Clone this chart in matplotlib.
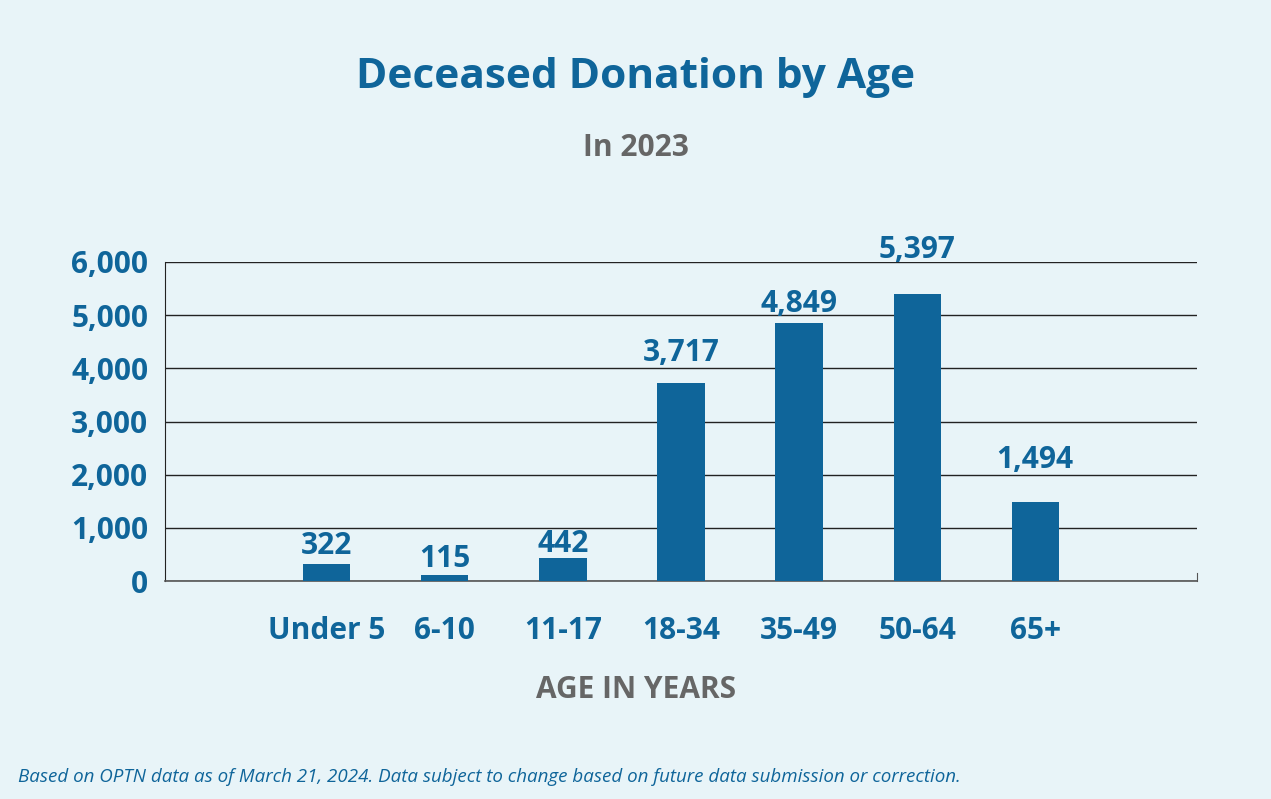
import matplotlib.pyplot as plt

ages = ["Under 5", "6-10", "11-17", "18-34", "35-49", "50-64", "65+"]
donors = [322, 115, 442, 3717, 4849, 5397, 1494]
y_ticks = [0, 1000, 2000, 3000, 4000, 5000, 6000]

# gap (px) between bar top and label baseline, as in the original layout
label_gap = [10, 8, 6, 22, 11, 36, 34]

bg = "#e8f4f8"
blue = "#0f659a"
gray = "#666666"

plt.rcParams['font.family'] = ['Open Sans', 'DejaVu Sans']

fig = plt.figure(figsize=(12.71, 7.99), dpi=100, facecolor=bg)
ax = fig.add_axes([0.1298, 0.2728, 0.812, 0.3993])
ax.set_facecolor(bg)

x = list(range(len(ages)))
ax.bar(x, donors, width=0.4, color=blue, zorder=3)
for xi, v, g in zip(x, donors, label_gap):
    ax.annotate(f"{v:,}", (xi, v), xytext=(0, g * 0.72), textcoords="offset points",
                ha="center", va="baseline", fontsize=21.5, fontweight="bold", color=blue)

ax.set_xlim(-1.37, 7.37)
ax.set_ylim(0, 6000)
ax.set_yticks(y_ticks)
ax.set_yticklabels([f"{t:,}" for t in y_ticks], fontsize=21.5, fontweight="bold", color=blue)
ax.set_xticks(x)
ax.set_xticklabels(ages, fontsize=21.5, fontweight="bold", color=blue)
ax.tick_params(axis="both", length=0)
ax.tick_params(axis="y", pad=12)
ax.tick_params(axis="x", pad=25)

ax.grid(axis="y", color="#222222", linewidth=1.0, zorder=0)
ax.spines["top"].set_visible(False)
ax.spines["right"].set_bounds(0, 150)
ax.spines["right"].set_color("#555555")
ax.spines["left"].set_color("#222222")
ax.spines["bottom"].set_color("#555555")
ax.spines["bottom"].set_linewidth(1.2)

ax.set_xlabel("AGE IN YEARS", fontsize=21.5, fontweight="bold", color=gray,
              labelpad=21, x=0.456)

fig.text(0.5, 0.903, "Deceased Donation by Age", ha="center", va="center",
         fontsize=30.5, fontweight="bold", color=blue)
fig.text(0.5, 0.815, "In 2023", ha="center", va="center",
         fontsize=21.5, fontweight="bold", color=gray)
fig.text(0.014, 0.028, "Based on OPTN data as of March 21, 2024. Data subject to change based on future data submission or correction.",
         ha="left", va="center", fontsize=13.5, style="italic", color=blue)

fig.savefig("out.png", dpi=100, facecolor=bg)
